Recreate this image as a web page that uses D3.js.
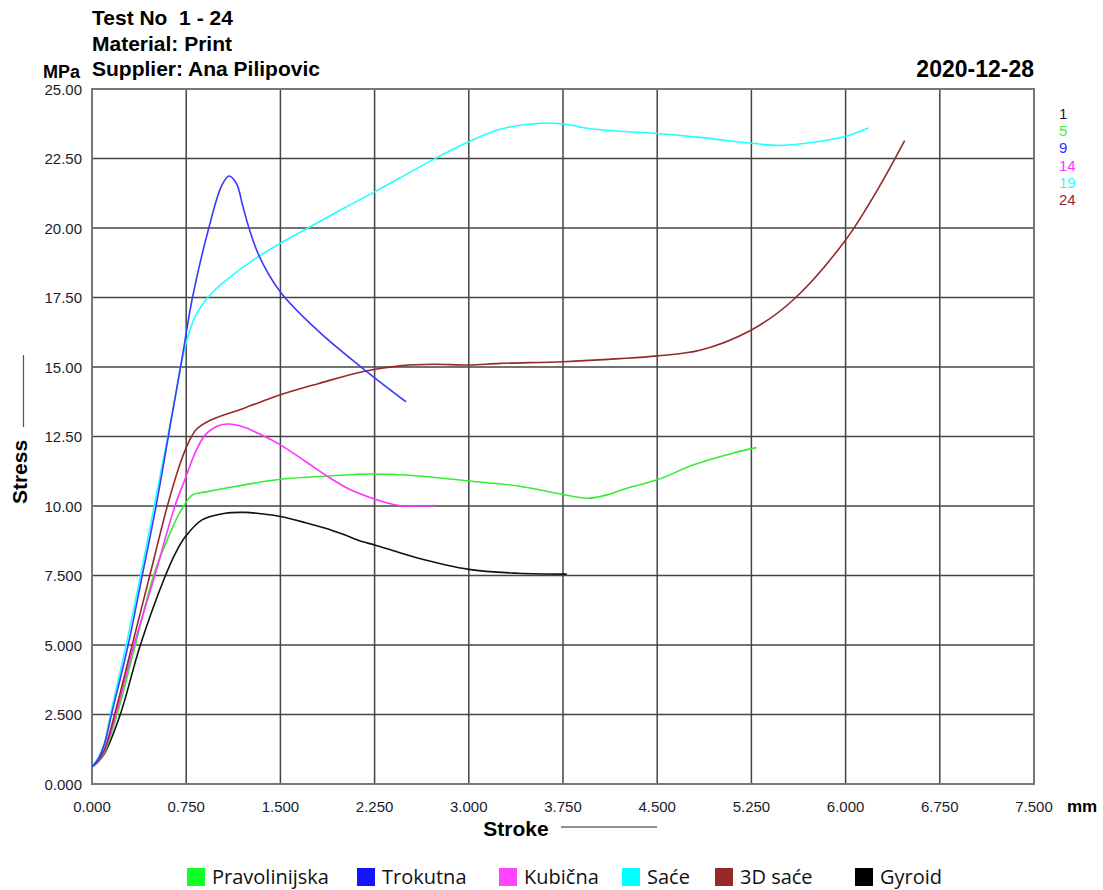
<!DOCTYPE html>
<html>
<head>
<meta charset="utf-8">
<script src="https://cdn.jsdelivr.net/npm/d3@7"></script>
<style>
  body { margin: 0; background: #fff; }
</style>
</head>
<body>
<div id="viz"></div>
<script>
// chart data
const titleLines = ["Test No  1 - 24", "Material: Print", "Supplier: Ana Pilipovic"];
const dateLabel = "2020-12-28";
const xTicks = [0, 0.75, 1.5, 2.25, 3, 3.75, 4.5, 5.25, 6, 6.75, 7.5];
const yTicks = [0, 2.5, 5, 7.5, 10, 12.5, 15, 17.5, 20, 22.5, 25];
const seriesNames = ["Pravolinijska", "Trokutna", "Kubična", "Saće", "3D saće", "Gyroid"];
const testNumbers = ["1", "5", "9", "14", "19", "24"];

const gyroid = [[0,0.62],[0.05,0.8],[0.1,1.1],[0.225,2.5],[0.385,5.0],[0.585,7.5],[0.67,8.35],[0.744,8.9],[0.876,9.5],[1.06,9.74],[1.22,9.77],[1.35,9.72],[1.5,9.62],[1.7,9.4],[1.86,9.2],[2.0,8.98],[2.15,8.72],[2.25,8.6],[2.6,8.12],[3.0,7.72],[3.39,7.58],[3.78,7.55]];
const pravolinijska = [[0,0.62],[0.05,0.82],[0.1,1.15],[0.2,2.5],[0.345,5.0],[0.49,7.5],[0.6,8.8],[0.68,9.6],[0.73,10.0],[0.8,10.4],[0.9,10.5],[1.06,10.64],[1.5,10.96],[1.88,11.08],[2.25,11.15],[2.6,11.08],[3.0,10.9],[3.39,10.72],[3.6,10.55],[3.73,10.43],[3.95,10.28],[4.1,10.4],[4.26,10.64],[4.5,10.94],[4.79,11.48],[5.1,11.9],[5.29,12.1]];
const trokutna = [[0,0.62],[0.05,0.9],[0.1,1.45],[0.155,2.5],[0.288,5.0],[0.4,7.5],[0.51,10.0],[0.65,13.6],[0.72,15.4],[0.8,17.5],[0.93,20.0],[1.03,21.5],[1.09,21.87],[1.15,21.6],[1.2,20.8],[1.25,20.0],[1.33,19.0],[1.5,17.7],[1.8,16.3],[2.17,14.9],[2.5,13.75]];
const kubicna = [[0,0.62],[0.05,0.82],[0.1,1.2],[0.19,2.5],[0.335,5.0],[0.5,7.5],[0.66,10.0],[0.74,10.95],[0.82,11.9],[0.9,12.55],[1.0,12.88],[1.09,12.95],[1.2,12.85],[1.33,12.6],[1.5,12.2],[1.7,11.6],[1.88,11.05],[2.05,10.6],[2.23,10.28],[2.44,10.02],[2.6,10.0],[2.74,10.02]];
const sace = [[0,0.62],[0.05,0.95],[0.1,1.5],[0.147,2.5],[0.272,5.0],[0.386,7.5],[0.5,10.1],[0.65,13.6],[0.74,15.7],[0.82,16.8],[0.94,17.6],[1.09,18.2],[1.3,18.9],[1.5,19.45],[1.72,20.0],[2.0,20.7],[2.25,21.3],[2.45,21.8],[2.72,22.47],[3.0,23.1],[3.25,23.55],[3.57,23.77],[3.75,23.74],[4.0,23.55],[4.5,23.4],[4.84,23.26],[5.25,23.05],[5.48,22.97],[5.77,23.1],[6.0,23.3],[6.18,23.6]];
const sace3d = [[0,0.62],[0.05,0.85],[0.1,1.25],[0.18,2.5],[0.32,5.0],[0.46,7.5],[0.6,10.0],[0.7,11.5],[0.76,12.2],[0.83,12.75],[0.95,13.1],[1.2,13.5],[1.5,14.0],[1.8,14.4],[2.17,14.85],[2.47,15.05],[2.72,15.1],[3.0,15.07],[3.25,15.13],[3.75,15.19],[4.2,15.3],[4.5,15.4],[4.84,15.6],[5.25,16.33],[5.58,17.4],[6.0,19.57],[6.27,21.5],[6.47,23.14]];

const seriesData = [pravolinijska, trokutna, kubicna, sace, sace3d, gyroid];
const lineColors = ["#33ee33", "#3a3aff", "#ff33ff", "#22ffff", "#952a2a", "#111111"];
const swatchColors = ["#11ff22", "#1414ff", "#ff44ff", "#00ffff", "#962828", "#000000"];
const numberColors = ["#1a1a40", "#44ee44", "#3333ff", "#ff33ff", "#22ffff", "#952a2a"];

const width = 1103, height = 890;
const margin = { top: 89, right: 69, bottom: 106, left: 92 };
const sans = "'Liberation Sans', Arial, sans-serif";

const svg = d3.select("#viz").append("svg")
  .attr("width", width)
  .attr("height", height)
  .style("font-family", sans);

const x = d3.scaleLinear().domain([0, 7.5]).range([margin.left, width - margin.right]);
const y = d3.scaleLinear().domain([0, 25]).range([height - margin.bottom, margin.top]);

// grid
svg.append("g")
  .selectAll("line")
  .data(xTicks)
  .enter().append("line")
  .attr("x1", d => x(d)).attr("x2", d => x(d))
  .attr("y1", y(25)).attr("y2", y(0))
  .attr("stroke", "#444").attr("stroke-width", 1.5);

svg.append("g")
  .selectAll("line")
  .data(yTicks)
  .enter().append("line")
  .attr("x1", x(0)).attr("x2", x(7.5))
  .attr("y1", d => y(d)).attr("y2", d => y(d))
  .attr("stroke", "#444").attr("stroke-width", 1.5);

// frame
svg.append("rect")
  .attr("x", x(0)).attr("y", y(25))
  .attr("width", x(7.5) - x(0)).attr("height", y(0) - y(25))
  .attr("fill", "none").attr("stroke", "#777").attr("stroke-width", 2);

// tick labels
const fmt = v => v >= 10 ? v.toFixed(2) : v.toFixed(3);
svg.append("g")
  .selectAll("text")
  .data(yTicks)
  .enter().append("text")
  .attr("x", x(0) - 10)
  .attr("y", d => y(d) + 5.5)
  .attr("text-anchor", "end")
  .attr("font-size", 15)
  .attr("fill", "#1c1c2c")
  .text(d => fmt(d));

svg.append("g")
  .selectAll("text")
  .data(xTicks)
  .enter().append("text")
  .attr("x", d => x(d))
  .attr("y", y(0) + 28)
  .attr("text-anchor", "middle")
  .attr("font-size", 15)
  .attr("fill", "#1c1c2c")
  .text(d => d.toFixed(3));

svg.append("text")
  .attr("x", x(7.5) + 33).attr("y", y(0) + 28)
  .attr("font-size", 17).attr("font-weight", "bold")
  .text("mm");

svg.append("text")
  .attr("x", x(0) - 12).attr("y", 78)
  .attr("text-anchor", "end")
  .attr("font-size", 18).attr("font-weight", "bold")
  .text("MPa");

// Stroke label
svg.append("text")
  .attr("x", 516).attr("y", 836)
  .attr("text-anchor", "middle")
  .attr("font-size", 21).attr("font-weight", "bold")
  .text("Stroke");
svg.append("line")
  .attr("x1", 561).attr("x2", 657).attr("y1", 827).attr("y2", 827)
  .attr("stroke", "#222").attr("stroke-width", 1.2);

// Stress label
svg.append("text")
  .attr("transform", "translate(27,472) rotate(-90)")
  .attr("text-anchor", "middle")
  .attr("font-size", 21).attr("font-weight", "bold")
  .text("Stress");
svg.append("line")
  .attr("x1", 23.5).attr("x2", 23.5).attr("y1", 355).attr("y2", 427)
  .attr("stroke", "#555").attr("stroke-width", 1.2);

// title block
svg.append("g")
  .selectAll("text")
  .data(titleLines)
  .enter().append("text")
  .attr("x", 92)
  .attr("y", (d, i) => 25 + i * 25.5)
  .attr("font-size", 21).attr("font-weight", "bold")
  .style("white-space", "pre")
  .text(d => d);

svg.append("text")
  .attr("x", x(7.5)).attr("y", 77)
  .attr("text-anchor", "end")
  .attr("font-size", 23).attr("font-weight", "bold")
  .text(dateLabel);

// curves
const line = d3.line()
  .x(d => x(d[0]))
  .y(d => y(d[1]))
  .curve(d3.curveCatmullRom.alpha(0.5));

const drawOrder = [5, 0, 2, 4, 3, 1];
svg.append("g")
  .selectAll("path")
  .data(drawOrder)
  .enter().append("path")
  .attr("d", i => line(seriesData[i]))
  .attr("fill", "none")
  .attr("stroke", i => lineColors[i])
  .attr("stroke-width", 1.6);

// test numbers on the right
svg.append("g")
  .selectAll("text")
  .data(testNumbers)
  .enter().append("text")
  .attr("x", 1059)
  .attr("y", (d, i) => 119 + i * 17.2)
  .attr("font-size", 15)
  .attr("fill", (d, i) => numberColors[i])
  .text(d => d);

// bottom legend
const legendX = [187, 357, 499, 622, 715, 855];
const legend = svg.append("g")
  .selectAll("g")
  .data(seriesNames)
  .enter().append("g")
  .attr("transform", (d, i) => `translate(${legendX[i]},868)`);

legend.append("rect")
  .attr("width", 18).attr("height", 18)
  .attr("fill", (d, i) => swatchColors[i]);

legend.append("text")
  .attr("x", 25).attr("y", 16)
  .style("font-family", "'Open Sans', sans-serif")
  .attr("font-size", 20)
  .attr("fill", "#111")
  .text(d => d);
</script>
</body>
</html>
